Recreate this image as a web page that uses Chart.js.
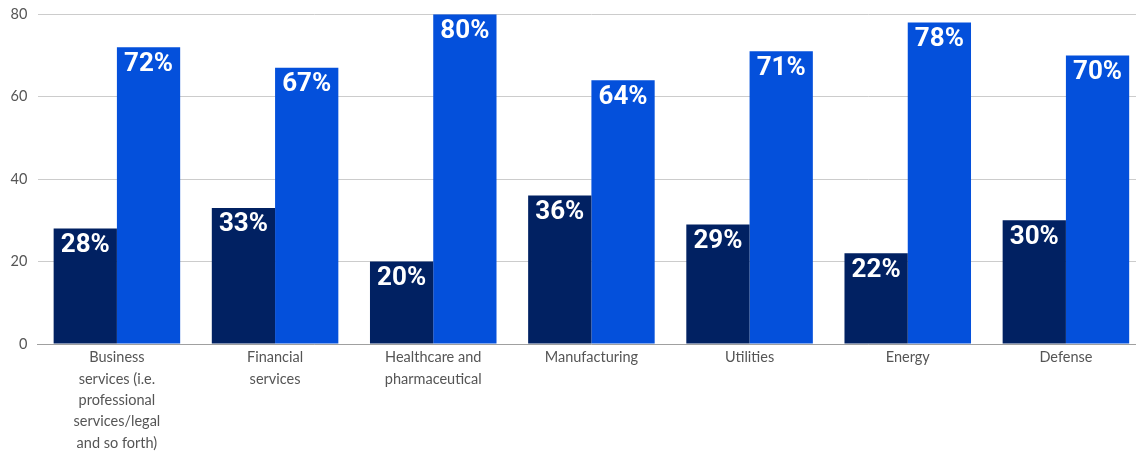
<!DOCTYPE html>
<html>
<head>
<meta charset="utf-8">
<script src="https://cdn.jsdelivr.net/npm/chart.js@4"></script>
<style>
  html, body { margin: 0; padding: 0; background: #fff; overflow: hidden; }
  #wrap { width: 1150px; height: 460px; margin-top: -5px; }
</style>
</head>
<body>
<div id="wrap"><canvas id="mycanvas"></canvas></div>
<script>
var categories = [
	["Business", "services (i.e.", "professional", "services/legal", "and so forth)"],
	["Financial", "services"],
	["Healthcare and", "pharmaceutical"],
	["Manufacturing"],
	["Utilities"],
	["Energy"],
	["Defense"]
];
var darkValues = [28, 33, 20, 36, 29, 22, 30];
var lightValues = [72, 67, 80, 64, 71, 78, 70];
var yTicks = [0, 20, 40, 60, 80];

// white percentage labels at the top of each bar
var barLabels = {
	id: "barLabels",
	afterDatasetsDraw: function(chart) {
		var ctx = chart.ctx;
		ctx.save();
		ctx.fillStyle = "#ffffff";
		ctx.font = "bold 26px Roboto";
		ctx.textAlign = "center";
		ctx.textBaseline = "middle";
		chart.data.datasets.forEach(function(ds, i) {
			var meta = chart.getDatasetMeta(i);
			meta.data.forEach(function(bar, j) {
				ctx.fillText(ds.data[j] + "%", bar.x, bar.y + 17);
			});
		});
		ctx.restore();
	}
};

var ctx = document.getElementById("mycanvas");

var barGraph = new Chart(ctx, {
	type: "bar",
	data: {
		labels: categories,
		datasets: [
			{
				label: "dark",
				backgroundColor: "#012162",
				data: darkValues,
				categoryPercentage: 0.8,
				barPercentage: 1.0
			},
			{
				label: "light",
				backgroundColor: "#0450DB",
				data: lightValues,
				categoryPercentage: 0.8,
				barPercentage: 1.0
			}
		]
	},
	options: {
		responsive: true,
		maintainAspectRatio: false,
		animation: false,
		layout: { padding: { top: 0, right: 5, left: 0, bottom: 0 } },
		plugins: {
			legend: { display: false },
			tooltip: { enabled: false }
		},
		scales: {
			x: {
				grid: { display: false },
				border: { color: "#a0a0a0", width: 1 },
				afterFit: function(axis) { axis.height = 111; },
				ticks: {
					color: "#555555",
					font: { family: "Lato", size: 14.5, lineHeight: 1.47 },
					maxRotation: 0,
					autoSkip: false,
					padding: -5
				}
			},
			y: {
				min: 0,
				max: 80,
				afterBuildTicks: function(axis) {
					axis.ticks = yTicks.map(function(v) { return { value: v }; });
				},
				border: { display: false },
				grid: {
					color: "#cccccc",
					drawTicks: false
				},
				ticks: {
					color: "#555555",
					font: { family: "Lato", size: 14.5 },
					padding: 10.5
				}
			}
		}
	},
	plugins: [barLabels]
});
</script>
</body>
</html>
